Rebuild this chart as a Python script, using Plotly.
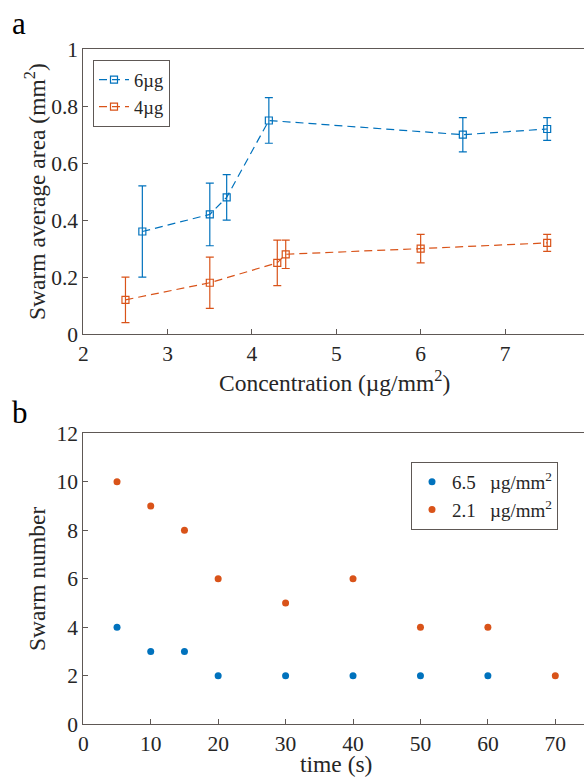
import plotly.graph_objects as go

# ---- panel a: swarm average area vs. concentration ----
conc_6ug = [2.7, 3.5, 3.7, 4.2, 6.5, 7.5]
area_6ug = [0.36, 0.42, 0.48, 0.75, 0.70, 0.72]
err_6ug = [0.16, 0.11, 0.08, 0.08, 0.06, 0.04]

conc_4ug = [2.5, 3.5, 4.3, 4.4, 6.0, 7.5]
area_4ug = [0.12, 0.18, 0.25, 0.28, 0.30, 0.32]
err_4ug = [0.08, 0.09, 0.08, 0.05, 0.05, 0.03]

# ---- panel b: swarm number vs. time ----
time_hi = [5, 10, 15, 20, 30, 40, 50, 60]
count_hi = [4, 3, 3, 2, 2, 2, 2, 2]
time_lo = [5, 10, 15, 20, 30, 40, 50, 60, 70]
count_lo = [10, 9, 8, 6, 5, 6, 4, 4, 2]

top_xticks = [2, 3, 4, 5, 6, 7]
top_yticks = [0, 0.2, 0.4, 0.6, 0.8, 1]
top_yticklabels = ["0", "0.2", "0.4", "0.6", "0.8", "1"]
bot_xticks = [0, 10, 20, 30, 40, 50, 60, 70]
bot_yticks = [0, 2, 4, 6, 8, 10, 12]

BLUE = "#0072BD"
ORANGE = "#D95319"
TEXT = "#262626"
AXIS = "#5e5855"
FONT = "Liberation Serif, Times New Roman, Times, serif"

W, H = 584, 778
left_px = 83.3
xdom = [left_px / W, 1.0]
top_dom = [1 - 334 / H, 1 - 49.3 / H]
bot_dom = [1 - 724.3 / H, 1 - 433.3 / H]

fig = go.Figure()

fig.add_trace(go.Scatter(
    x=conc_6ug, y=area_6ug, name="6µg", mode="lines+markers",
    line=dict(color=BLUE, width=1.2, dash="8px,5px"),
    marker=dict(symbol="square-open", size=7, color=BLUE, line=dict(width=1.2)),
    error_y=dict(type="data", array=err_6ug, color=BLUE, thickness=1.2, width=4),
    xaxis="x", yaxis="y", legend="legend",
))
fig.add_trace(go.Scatter(
    x=conc_4ug, y=area_4ug, name="4µg", mode="lines+markers",
    line=dict(color=ORANGE, width=1.2, dash="8px,5px"),
    marker=dict(symbol="square-open", size=7, color=ORANGE, line=dict(width=1.2)),
    error_y=dict(type="data", array=err_4ug, color=ORANGE, thickness=1.2, width=4),
    xaxis="x", yaxis="y", legend="legend",
))

fig.add_trace(go.Scatter(
    x=time_hi, y=count_hi, name="6.5\u00a0\u00a0\u00a0µg/mm<sup>2</sup>", mode="markers",
    marker=dict(symbol="circle", size=7, color=BLUE),
    xaxis="x2", yaxis="y2", legend="legend2",
))
fig.add_trace(go.Scatter(
    x=time_lo, y=count_lo, name="2.1\u00a0\u00a0\u00a0µg/mm<sup>2</sup>", mode="markers",
    marker=dict(symbol="circle", size=7, color=ORANGE),
    xaxis="x2", yaxis="y2", legend="legend2",
))

axis_common = dict(
    showline=True, linecolor=AXIS, linewidth=1,
    ticks="inside", ticklen=5, tickcolor=AXIS, tickwidth=1,
    showgrid=False, zeroline=False, automargin=False,
    tickfont=dict(family=FONT, size=21.5, color=TEXT),
)

fig.update_layout(
    template="none",
    width=W, height=H,
    margin=dict(l=0, r=0, t=0, b=0, pad=0, autoexpand=False),
    paper_bgcolor="white", plot_bgcolor="white",
    font=dict(family=FONT, color=TEXT),
    showlegend=True,
    xaxis=dict(domain=xdom, anchor="y", range=[2, 2 + (W - left_px) / 84.34],
               tickvals=top_xticks, mirror=True, **axis_common),
    yaxis=dict(domain=top_dom, anchor="x", range=[0, 1],
               tickvals=top_yticks, ticktext=top_yticklabels, **axis_common),
    xaxis2=dict(domain=xdom, anchor="y2", range=[0, (W - left_px) / 6.743],
                tickvals=bot_xticks, mirror=True, **axis_common),
    yaxis2=dict(domain=bot_dom, anchor="x2", range=[0, 12],
                tickvals=bot_yticks, **axis_common),
    legend=dict(x=93 / W, y=1 - 60 / H, xanchor="left", yanchor="top",
                bordercolor=AXIS, borderwidth=1, bgcolor="white",
                font=dict(family=FONT, size=18.5, color=TEXT),
                tracegroupgap=0, itemwidth=30),
    legend2=dict(x=411 / W, y=1 - 462 / H, xanchor="left", yanchor="top",
                 bordercolor=AXIS, borderwidth=1, bgcolor="white",
                 font=dict(family=FONT, size=19, color=TEXT),
                 tracegroupgap=0, itemwidth=30),
)

annotations = [
    dict(text="a", x=18.5 / W, y=1 - 24 / H, xanchor="center", yanchor="middle",
         font=dict(size=31, color="black")),
    dict(text="b", x=19.5 / W, y=1 - 412 / H, xanchor="center", yanchor="middle",
         font=dict(size=31, color="black")),
    dict(text="Concentration (µg/mm<sup>2</sup>)", x=334 / W, y=1 - 381 / H,
         xanchor="center", yanchor="middle", font=dict(size=23.5, color=TEXT)),
    dict(text="time (s)", x=336 / W, y=1 - 764 / H,
         xanchor="center", yanchor="middle", font=dict(size=23.5, color=TEXT)),
    dict(text="Swarm average area (mm<sup>2</sup>)", x=35 / W, y=1 - 192 / H,
         xanchor="center", yanchor="middle", textangle=-90,
         font=dict(size=23.5, color=TEXT)),
    dict(text="Swarm number", x=37 / W, y=1 - 579 / H,
         xanchor="center", yanchor="middle", textangle=-90,
         font=dict(size=23.5, color=TEXT)),
]
for a in annotations:
    a.update(xref="paper", yref="paper", showarrow=False)
    a["font"]["family"] = FONT
fig.update_layout(annotations=annotations)

fig.write_html("out.html")
